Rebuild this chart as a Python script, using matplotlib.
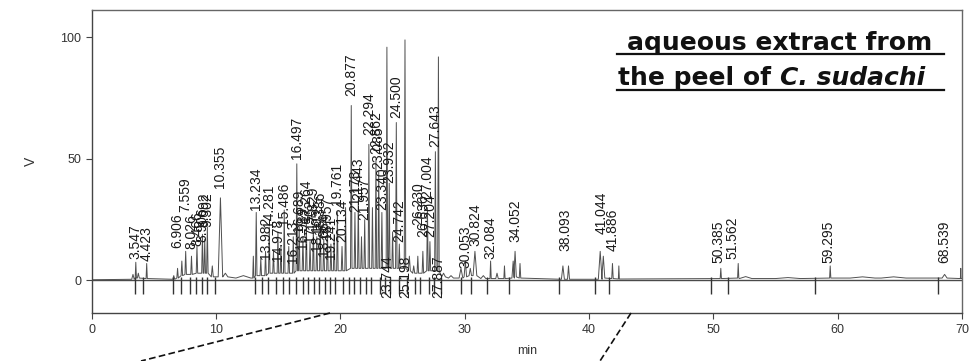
import matplotlib
matplotlib.use("Agg")
import matplotlib.pyplot as plt
from matplotlib.lines import Line2D
import numpy as np

# ---- data ----
peak_times = [3.32, 3.547, 3.75, 4.423, 6.60, 6.906, 7.25, 7.559, 8.026, 8.466, 8.906, 9.092, 9.302, 9.70,
              10.355, 10.75, 12.2, 13.0, 13.234, 13.60, 13.982, 14.281, 14.62, 14.978, 15.22, 15.486, 15.85,
              16.213, 16.497, 16.689, 16.989, 17.264, 17.562, 17.829, 18.105, 18.386, 18.664, 18.957, 19.241,
              19.50, 19.761, 20.134, 20.42, 20.877, 21.173, 21.443, 21.70, 21.957, 22.294, 22.58, 22.862,
              23.085, 23.340, 23.744, 23.932, 24.20, 24.500, 24.742, 25.198, 25.55, 25.90, 26.230, 26.636,
              27.004, 27.204, 27.643, 27.887, 28.30, 28.90, 29.70, 30.053, 30.45, 30.824, 31.50, 32.084,
              32.60, 33.20, 33.90, 34.052, 34.45, 37.90, 38.35, 40.90, 41.15, 41.886, 42.40, 50.60, 52.0,
              52.6, 56.0, 59.40, 62.0, 64.5, 68.6, 69.9]
peak_heights = [2.5, 7.5, 3.0, 7.0, 2.0, 5.0, 8.0, 12.0, 10.0, 14.0, 19.0, 17.0, 22.0, 6.0,
                34.0, 3.0, 2.0, 10.0, 28.0, 9.0, 12.0, 22.0, 12.0, 20.0, 14.0, 29.0, 14.0,
                18.0, 48.0, 22.0, 18.0, 24.0, 16.0, 22.0, 18.0, 25.0, 17.0, 22.0, 15.0,
                19.0, 28.0, 14.0, 30.0, 72.0, 28.0, 33.0, 18.0, 25.0, 56.0, 30.0, 50.0,
                45.0, 28.0, 96.0, 40.0, 20.0, 65.0, 15.0, 99.0, 10.0, 6.0, 10.0, 12.0,
                30.0, 16.0, 53.0, 92.0, 3.0, 2.0, 5.0, 8.0, 5.0, 12.0, 2.0, 8.0,
                3.0, 6.0, 8.0, 12.0, 7.0, 6.0, 6.0, 12.0, 10.0, 7.0, 6.0, 5.0, 7.0,
                1.6, 1.2, 6.0, 1.5, 1.5, 2.5, 5.0]
peak_widths = [0.10, 0.05, 0.08, 0.05, 0.08, 0.06, 0.06, 0.06, 0.06, 0.06, 0.06, 0.06, 0.06, 0.08,
               0.18, 0.20, 0.60, 0.05, 0.06, 0.06, 0.06, 0.06, 0.06, 0.06, 0.06, 0.06, 0.06,
               0.06, 0.06, 0.06, 0.06, 0.06, 0.06, 0.06, 0.06, 0.06, 0.06, 0.06, 0.06,
               0.06, 0.06, 0.06, 0.06, 0.06, 0.06, 0.06, 0.06, 0.06, 0.06, 0.06, 0.06,
               0.06, 0.06, 0.06, 0.06, 0.06, 0.06, 0.06, 0.06, 0.08, 0.08, 0.06, 0.06,
               0.06, 0.06, 0.06, 0.06, 0.15, 0.20, 0.15, 0.10, 0.10, 0.15, 0.20, 0.05,
               0.10, 0.05, 0.10, 0.10, 0.06, 0.12, 0.08, 0.15, 0.12, 0.06, 0.04, 0.05, 0.05,
               0.50, 1.00, 0.05, 1.00, 1.00, 0.20, 0.03]
peak_bases = [0.5, 1.0, 1.0, 0.8, 0.5, 1.0, 2.0, 2.5, 2.5, 3.0, 3.0, 3.0, 3.0, 1.5,
              1.5, 1.5, 1.0, 1.0, 2.0, 2.0, 2.0, 3.0, 3.0, 3.0, 3.0, 3.0, 3.0,
              3.0, 4.0, 4.0, 4.0, 4.0, 4.0, 4.0, 4.0, 4.0, 4.0, 4.0, 4.0,
              4.0, 4.0, 4.0, 4.0, 5.0, 5.0, 5.0, 5.0, 5.0, 5.0, 5.0, 5.0,
              5.0, 5.0, 5.0, 5.0, 5.0, 5.0, 5.0, 5.0, 4.0, 3.0, 3.0, 3.0,
              4.0, 4.0, 4.0, 4.0, 1.5, 1.0, 1.0, 1.5, 2.0, 2.0, 0.8, 0.8,
              0.8, 0.8, 1.0, 1.5, 1.0, 0.5, 0.5, 0.5, 1.0, 0.8, 0.6, 0.8, 1.0,
              0.8, 0.8, 1.0, 1.0, 1.0, 1.0, 0.8]

label_times = [3.547, 4.423, 6.906, 7.559, 8.026, 8.466, 8.906, 9.092, 9.302, 10.355,
               13.234, 13.982, 14.281, 14.978, 15.486, 16.213, 16.497, 16.689, 16.989, 17.264,
               17.562, 17.829, 18.105, 18.386, 18.664, 18.957, 19.241, 19.761, 20.134, 20.877,
               21.173, 21.443, 21.957, 22.294, 22.862, 23.085, 23.340, 23.744, 23.932, 24.500,
               24.742, 25.198, 26.230, 26.636, 27.004, 27.204, 27.643, 27.887, 30.053, 30.824,
               32.084, 34.052, 38.093, 41.044, 41.886, 50.385, 51.562, 59.295, 68.539]
label_levels = [9, 8, 13.5, 28, 13, 14, 16, 22, 22, 38,
                29, 9, 22, 8, 23, 7, 50, 20, 13, 24,
                16, 21, 12, 19, 10, 17, 9, 31, 16, 76,
                28, 33, 25, 60, 52, 46, 29, -7, 40, 67,
                16, -7, 23, 18, 34, 18, 55, -7, 5, 14,
                9, 16, 12, 19, 12, 7, 9, 7, 7]

event_times = [3.45, 4.1, 6.5, 7.2, 7.9, 8.4, 8.9, 9.3, 9.9, 13.1, 13.7, 14.2, 14.8, 15.4, 15.9,
               16.4, 17.0, 17.4, 17.9, 18.3, 18.8, 19.2, 19.6, 20.2, 20.7, 21.1, 21.6, 22.1, 22.5,
               23.2, 23.6, 24.0, 24.7, 25.4, 26.0, 26.4, 27.1, 27.5, 28.1, 29.7, 30.5, 31.8,
               33.6, 37.6, 40.5, 41.6, 49.8, 51.2, 58.2, 68.1]

x_ticks = [0, 10, 20, 30, 40, 50, 60, 70]
y_ticks = [0, 50, 100]

# ---- build trace vertices from the peak table ----
order = np.argsort(peak_times)
tx, ty = [0.0], [0.3]
for i in order:
    t, h, w, b = peak_times[i], peak_heights[i], peak_widths[i], peak_bases[i]
    tx += [t - w, t, t + w]
    ty += [b, h, b]
tx.append(70.0)
ty.append(0.8)

W, H = 969, 361
fig = plt.figure(figsize=(W / 100, H / 100), dpi=100)
ax = fig.add_axes([91.7 / W, (H - 313.3) / H, (962 - 91.7) / W, (313.3 - 10) / H])
ax.set_xlim(0, 70)
ax.set_ylim(-13.5, 111.3)

gray = "#4a4a4a"
ax.axhline(0, color=gray, lw=1.0, zorder=1)
ax.plot(tx, ty, color="#505050", lw=0.7, zorder=2)
ax.vlines(event_times, -5.5, 1.5, color="#333333", lw=1.0, zorder=3)

num_font = ["Liberation Sans", "DejaVu Sans"]
for t, lv in zip(label_times, label_levels):
    ax.text(t, lv, f"{t:.3f}", rotation=90, ha="center", va="bottom",
            fontsize=10, family=num_font, color="#1a1a1a", zorder=4)

ax.set_xticks(x_ticks)
ax.set_yticks(y_ticks)
ax.tick_params(direction="out", length=4, width=0.8, colors="#444444",
               labelsize=9, labelcolor="#333333")
for lbl in ax.get_xticklabels() + ax.get_yticklabels():
    lbl.set_family(["Liberation Sans", "DejaVu Sans"])
for s in ax.spines.values():
    s.set_color("#666666")
    s.set_linewidth(1.0)
ax.spines["bottom"].set_color("#444444")
ax.spines["left"].set_color("#444444")

ax.set_xlabel("min", fontsize=9, color="#333333", family=["Liberation Sans"], labelpad=7)
ax.set_ylabel("V", fontsize=10, color="#333333", family=["Liberation Sans"], labelpad=16)

# ---- annotation text ----
tfont = ["DejaVu Sans"]
fig.text(627 / W, 1 - 50 / H, "aqueous extract from", fontsize=18, fontweight="bold",
         family=tfont, ha="left", va="baseline", color="#111111")
t2 = fig.text(618 / W, 1 - 85 / H, "the peel of ", fontsize=18, fontweight="bold",
              family=tfont, ha="left", va="baseline", color="#111111")
fig.canvas.draw()
bb = t2.get_window_extent(renderer=fig.canvas.get_renderer())
fig.text(bb.x1 / W, 1 - 85 / H, "C. sudachi", fontsize=18, fontweight="bold", style="italic",
         family=tfont, ha="left", va="baseline", color="#111111")
for yy in (54, 90):
    fig.add_artist(Line2D([617 / W, 944 / W], [1 - yy / H, 1 - yy / H], color="#111111", lw=1.6))

# ---- dashed zoom lines ----
fig.add_artist(Line2D([330 / W, 141 / W], [1 - 313 / H, 1 - 361 / H], color="#111111", lw=1.2,
                      ls=(0, (4, 2))))
fig.add_artist(Line2D([631 / W, 600 / W], [1 - 313 / H, 1 - 361 / H], color="#111111", lw=1.2,
                      ls=(0, (4, 2))))

fig.savefig("out.png", dpi=100)
